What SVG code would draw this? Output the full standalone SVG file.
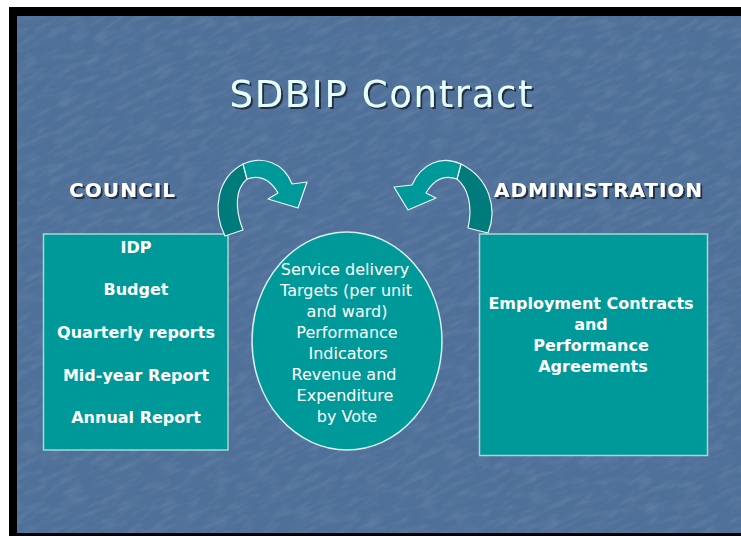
<svg xmlns="http://www.w3.org/2000/svg" width="741" height="536" viewBox="0 0 741 536">
  <defs>
    <filter id="grain" x="0" y="0" width="100%" height="100%">
      <feTurbulence type="fractalNoise" baseFrequency="0.05 0.18" numOctaves="3" seed="7" result="n"/>
      <feColorMatrix in="n" type="matrix" values="0 0 0 0 1  0 0 0 0 1  0 0 0 0 1  0 0 0 1.2 -0.5"/>
    </filter>
    <filter id="shadow" x="-10%" y="-20%" width="130%" height="150%">
      <feDropShadow dx="2" dy="2" stdDeviation="0.6" flood-color="#1a2a3a" flood-opacity="0.9"/>
    </filter>
    <style>
      .box { fill: #009999; stroke: #a9d6d6; stroke-width: 1.5; }
      .front { fill: #009999; stroke: #e8f4f4; stroke-width: 1.2; stroke-linejoin: round; }
      .back { fill: #007b7b; stroke: #e8f4f4; stroke-width: 1.2; stroke-linejoin: round; }
      .title { font-family: "DejaVu Sans", Verdana, sans-serif; font-size: 37px; fill: #e6ffff; }
      .head { font-family: "DejaVu Sans", Verdana, sans-serif; font-size: 20px; font-weight: bold; fill: #ffffff; }
      .bold { font-family: "DejaVu Sans", Verdana, sans-serif; font-size: 16px; font-weight: bold; fill: #ffffff; text-anchor: middle; }
      .plain { font-family: "DejaVu Sans", Verdana, sans-serif; font-size: 16px; fill: #ffffff; text-anchor: middle; }
    </style>
  </defs>

  <!-- frame and slide background -->
  <rect x="0" y="0" width="741" height="536" fill="#ffffff"/>
  <rect x="9" y="7" width="732" height="529" fill="#000000"/>
  <rect x="17" y="16" width="724" height="517" fill="#4f7099"/>
  <g transform="rotate(-25 380 275)">
    <rect x="-150" y="-150" width="1060" height="850" filter="url(#grain)" opacity="0.16" clip-path="none"/>
  </g>
  <!-- re-mask the frame edges over the texture -->
  <path d="M0,0 H741 V16 H17 V533 H741 V536 H0 Z" fill="#000000"/>
  <rect x="0" y="0" width="741" height="7" fill="#ffffff"/>
  <rect x="0" y="0" width="9" height="536" fill="#ffffff"/>

  <!-- title and column headings -->
  <g id="title">
    <text class="title" x="381" y="107" text-anchor="middle" textLength="303" filter="url(#shadow)">SDBIP Contract</text>
  </g>
  <g id="council-label">
    <text class="head" x="69" y="197" textLength="106" filter="url(#shadow)">COUNCIL</text>
  </g>
  <g id="administration-label">
    <text class="head" x="494" y="197" textLength="208" filter="url(#shadow)">ADMINISTRATION</text>
  </g>

  <!-- council box -->
  <g id="council">
    <rect class="box" x="43.5" y="234" width="184.5" height="216"/>
    <text class="bold" x="136" y="253">IDP</text>
    <text class="bold" x="136" y="295">Budget</text>
    <text class="bold" x="136" y="338">Quarterly reports</text>
    <text class="bold" x="136" y="381">Mid-year Report</text>
    <text class="bold" x="136" y="423">Annual Report</text>
  </g>

  <!-- central contract ellipse -->
  <g id="contract">
    <ellipse cx="347" cy="341" rx="95" ry="109" fill="#009999" stroke="#d8eeee" stroke-width="1.5"/>
    <text class="plain" x="345" y="275">Service delivery</text>
    <text class="plain" x="346" y="296">Targets (per unit</text>
    <text class="plain" x="347" y="317">and ward)</text>
    <text class="plain" x="347" y="338">Performance</text>
    <text class="plain" x="348" y="359">Indicators</text>
    <text class="plain" x="344" y="380">Revenue and</text>
    <text class="plain" x="345" y="401">Expenditure</text>
    <text class="plain" x="347" y="422">by Vote</text>
  </g>

  <!-- administration box -->
  <g id="administration">
    <rect class="box" x="479.5" y="234" width="228" height="221.5"/>
    <text class="bold" x="591" y="309">Employment Contracts</text>
    <text class="bold" x="591" y="330">and</text>
    <text class="bold" x="591" y="351">Performance</text>
    <text class="bold" x="593" y="372">Agreements</text>
  </g>

  <!-- curved arrows feeding the contract -->
  <g id="connectors">
    <g id="arrow-council">
      <path class="back" d="M225,236 C212,210 217,178 243,164 L247,179 C236,188 234,207 243,230 Z"/>
      <path class="front" d="M243,164 C263,155 284,163 292,184 L307,182 L298,208 L268,199 L278,193 C271,181 261,174 247,179 Z"/>
    </g>
    <g id="arrow-administration">
      <path class="back" d="M488,233 C498,208 489,178 461,164 L457,179 C468,188 473,206 468,228 Z"/>
      <path class="front" d="M461,164 C441,155 421,164 412,185 L394,187 L408,210 L436,198 L426,193 C433,181 443,174 457,179 Z"/>
    </g>
  </g>
</svg>
